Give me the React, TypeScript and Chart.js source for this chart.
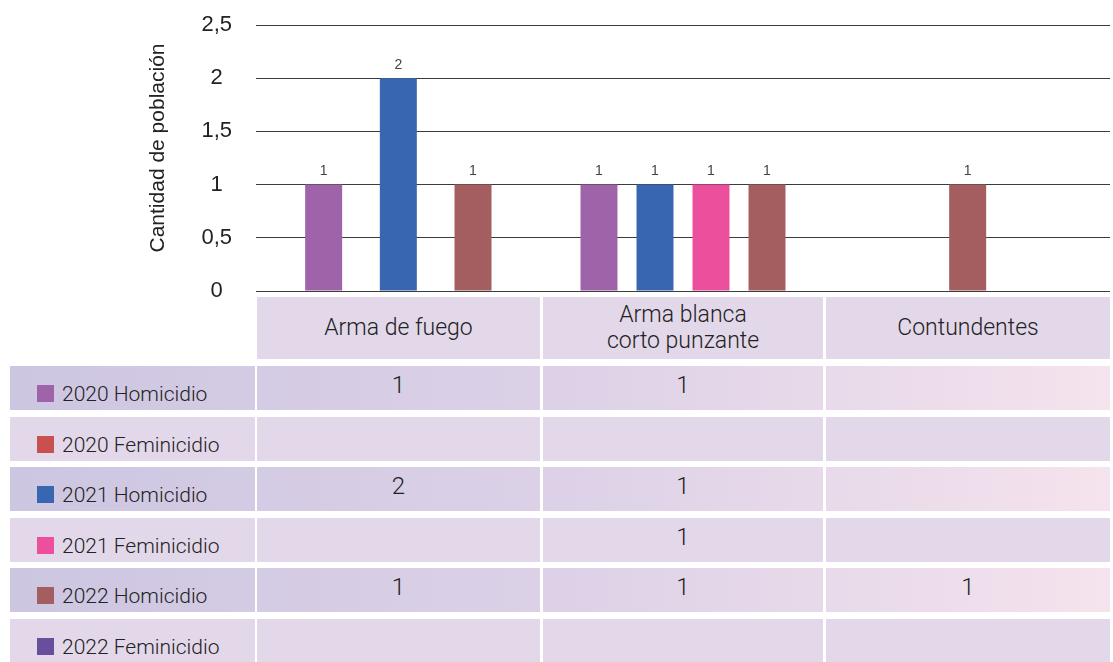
import React, { useEffect, useRef } from "react";
import { Chart, registerables } from "chart.js";

Chart.register(...registerables);

// ---------- data ----------
const categories = ["Arma de fuego", "Arma blanca\ncorto punzante", "Contundentes"];
const seriesNames = [
  "2020 Homicidio",
  "2020 Feminicidio",
  "2021 Homicidio",
  "2021 Feminicidio",
  "2022 Homicidio",
  "2022 Feminicidio",
];
const seriesColors = ["#9e63a8", "#c85150", "#3866b0", "#ec4f9b", "#a45e60", "#6a4e9e"];
const homicidio2020 = [1, 1, null];
const feminicidio2020 = [null, null, null];
const homicidio2021 = [2, 1, null];
const feminicidio2021 = [null, 1, null];
const homicidio2022 = [1, 1, 1];
const feminicidio2022 = [null, null, null];
const yTickLabels = ["0", "0,5", "1", "1,5", "2", "2,5"];
const yTitle = "Cantidad de población";

const seriesValues = [
  homicidio2020,
  feminicidio2020,
  homicidio2021,
  feminicidio2021,
  homicidio2022,
  feminicidio2022,
];

// ---------- layout ----------
const FONT = "Roboto, 'Noto Sans', sans-serif";
const AXIS_FONT = "'Liberation Sans', Arial, sans-serif";
const colX = [257, 543, 826];
const colW = [283, 280, 284];
const labelX = 10;
const labelW = 245;
const headerTop = 297;
const headerH = 62;
const rowTop0 = 366;
const rowPitch = 50.6;
const rowH = 44;
const flatBg = "#e3d8ea";
const gradBg = "linear-gradient(to right, #cdc6e1, #dcd1e7 50%, #f5e3ed)";
const titleCenterX = 158;
const titleCenterY = 148;

const valueLabels = {
  id: "valueLabels",
  afterDatasetsDraw(chart: any) {
    const ctx = chart.ctx;
    ctx.save();
    ctx.fillStyle = "#444";
    ctx.font = `14px ${AXIS_FONT}`;
    ctx.textAlign = "center";
    ctx.textBaseline = "bottom";
    chart.data.datasets.forEach((ds: any, di: number) => {
      const meta = chart.getDatasetMeta(di);
      meta.data.forEach((el: any, i: number) => {
        const v = ds.data[i];
        if (v === null || v === undefined) return;
        const { x, y } = el.getProps(["x", "y"], true);
        ctx.fillText(String(v), x, y - 6);
      });
    });
    ctx.restore();
  },
};

const axisTitle = {
  id: "axisTitle",
  afterDraw(chart: any) {
    const ctx = chart.ctx;
    ctx.save();
    ctx.translate(titleCenterX, titleCenterY);
    ctx.rotate(-Math.PI / 2);
    ctx.fillStyle = "#222";
    ctx.font = `21px ${AXIS_FONT}`;
    ctx.textAlign = "center";
    ctx.textBaseline = "middle";
    ctx.fillText(yTitle, 0, 0);
    ctx.restore();
  },
};

function cellBg(rowIndex: number, x: number) {
  if (rowIndex % 2 === 0) {
    return {
      backgroundImage: gradBg,
      backgroundSize: "1100px 100%",
      backgroundPosition: `${-(x - labelX)}px 0`,
      backgroundRepeat: "no-repeat",
    };
  }
  return { background: flatBg };
}

export default function App() {
  const canvasRef = useRef<HTMLCanvasElement | null>(null);

  useEffect(() => {
    if (!canvasRef.current) return;
    const chart = new Chart(canvasRef.current, {
      type: "bar",
      data: {
        labels: categories,
        datasets: seriesValues.map((vals, i) => ({
          label: seriesNames[i],
          data: vals as any,
          backgroundColor: seriesColors[i],
          skipNull: true,
          categoryPercentage: 0.787,
          barPercentage: 0.66,
          maxBarThickness: 37,
        })),
      },
      options: {
        animation: false,
        responsive: false,
        maintainAspectRatio: false,
        events: [],
        layout: { padding: { left: 170, right: 3, top: 25, bottom: 19 } },
        plugins: { legend: { display: false }, tooltip: { enabled: false } },
        scales: {
          x: { display: false },
          y: {
            min: 0,
            max: 2.5,
            afterFit: (s: any) => {
              s.width = 86;
              s.paddingTop = 0;
              s.paddingBottom = 0;
            },
            border: { display: false },
            grid: { color: "#3c3c3c", drawTicks: false, lineWidth: 1 },
            ticks: {
              stepSize: 0.5,
              padding: 24,
              crossAlign: "center",
              color: "#222",
              font: { family: AXIS_FONT, size: 22 },
              callback: (_v: any, i: number) => yTickLabels[i],
            },
            title: { display: false },
          },
        },
      } as any,
      plugins: [valueLabels, axisTitle],
    });
    return () => chart.destroy();
  }, []);

  return (
    <div
      style={{
        position: "absolute",
        left: 0,
        top: 0,
        width: 1113,
        height: 662,
        overflow: "hidden",
        background: "#fff",
        fontFamily: FONT,
        color: "#222",
      }}
    >
      {categories.map((c, ci) => (
        <div
          key={"h" + ci}
          style={{
            position: "absolute",
            left: colX[ci],
            top: headerTop,
            width: colW[ci],
            height: headerH,
            background: flatBg,
            display: "flex",
            alignItems: "center",
            justifyContent: "center",
            textAlign: "center",
            whiteSpace: "pre-line",
            fontSize: 23,
            lineHeight: "26px",
            fontWeight: 300,
          }}
        >
          {c}
        </div>
      ))}
      {seriesNames.map((name, ri) => {
        const top = rowTop0 + Math.round(ri * rowPitch);
        return (
          <React.Fragment key={"r" + ri}>
            <div
              style={{
                position: "absolute",
                left: labelX,
                top,
                width: labelW,
                height: rowH,
                boxSizing: "border-box",
                paddingTop: 11,
                paddingLeft: 27,
                display: "flex",
                alignItems: "center",
                ...cellBg(ri, labelX),
              }}
            >
              <span
                style={{
                  display: "inline-block",
                  width: 17,
                  height: 17,
                  background: seriesColors[ri],
                  marginRight: 8,
                  flex: "none",
                }}
              />
              <span style={{ fontSize: 21, fontWeight: 300, whiteSpace: "nowrap" }}>{name}</span>
            </div>
            {categories.map((_c, ci) => {
              const v = seriesValues[ri][ci];
              return (
                <div
                  key={"c" + ri + "-" + ci}
                  style={{
                    position: "absolute",
                    left: colX[ci],
                    top,
                    width: colW[ci],
                    height: rowH,
                    boxSizing: "border-box",
                    paddingBottom: 6,
                    display: "flex",
                    alignItems: "center",
                    justifyContent: "center",
                    fontSize: 24,
                    fontWeight: 300,
                    ...cellBg(ri, colX[ci]),
                  }}
                >
                  {v === null || v === undefined ? "" : String(v)}
                </div>
              );
            })}
          </React.Fragment>
        );
      })}
      <canvas
        ref={canvasRef}
        width={1113}
        height={310}
        style={{ position: "absolute", left: 0, top: 0, width: 1113, height: 310, display: "block" }}
      />
    </div>
  );
}
